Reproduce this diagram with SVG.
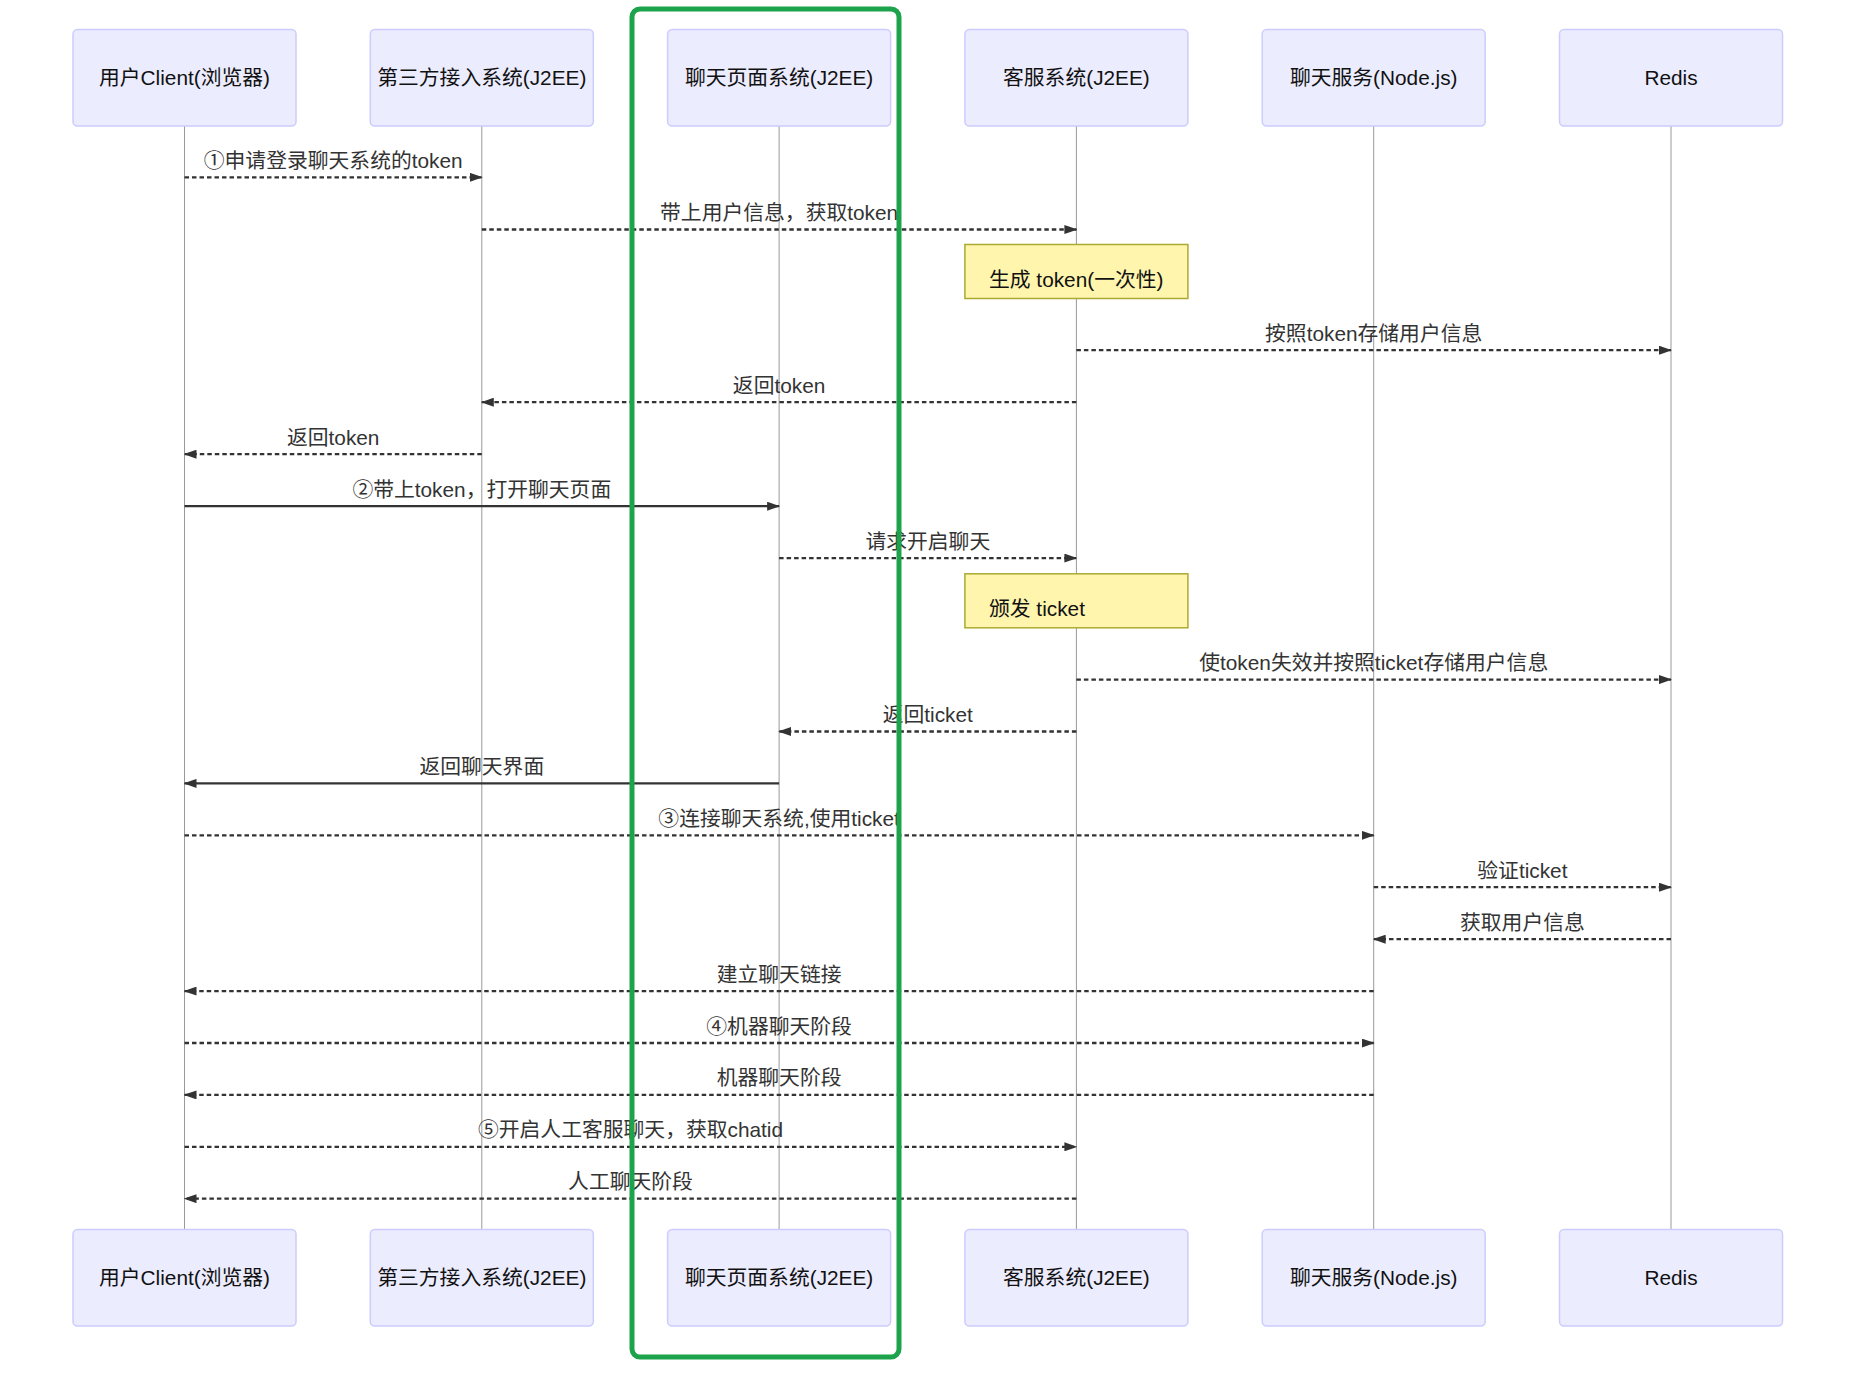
<svg xmlns="http://www.w3.org/2000/svg" width="1850" height="1376" viewBox="0 0 1850 1376">
<style>
text{font-family:"Liberation Sans","Noto Sans CJK SC",sans-serif;font-size:20.8px}
.actor rect{fill:#ECECFF;stroke:#CCCCFF;stroke-width:1.5}
.actor text{fill:#111;text-anchor:middle;dominant-baseline:central}
.life{stroke:#999;stroke-width:1}
.msg{stroke:#333;stroke-width:2.3;fill:none;marker-end:url(#ah)}
.dash{stroke-dasharray:4.5 3}
.lbl{fill:#333;text-anchor:middle}
.note rect{fill:#FFF5AD;stroke:#AAAA33;stroke-width:1.5}
.note text{fill:#111}
</style>
<defs>
<marker id="ah" viewBox="0 0 13 9" refX="12" refY="4.5" markerWidth="13" markerHeight="9" markerUnits="userSpaceOnUse" orient="auto">
<path d="M0,0 L13,4.5 L0,9 z" fill="#333"/>
</marker>
</defs>
<rect width="1850" height="1376" fill="#fff"/>
<g id="lifelines">
<line class="life" x1="184.5" y1="126" x2="184.5" y2="1229"/>
<line class="life" x1="481.8" y1="126" x2="481.8" y2="1229"/>
<line class="life" x1="779.1" y1="126" x2="779.1" y2="1229"/>
<line class="life" x1="1076.4" y1="126" x2="1076.4" y2="1229"/>
<line class="life" x1="1373.7" y1="126" x2="1373.7" y2="1229"/>
<line class="life" x1="1671" y1="126" x2="1671" y2="1229"/>
</g>
<g id="actor-client-top" class="actor"><rect x="73" y="29.4" width="223" height="96.6" rx="4.5"/><text x="184.5" y="77.7">用户Client(浏览器)</text></g>
<g id="actor-third-top" class="actor"><rect x="370.3" y="29.4" width="223" height="96.6" rx="4.5"/><text x="481.8" y="77.7">第三方接入系统(J2EE)</text></g>
<g id="actor-chatpage-top" class="actor"><rect x="667.6" y="29.4" width="223" height="96.6" rx="4.5"/><text x="779.1" y="77.7">聊天页面系统(J2EE)</text></g>
<g id="actor-cs-top" class="actor"><rect x="964.9" y="29.4" width="223" height="96.6" rx="4.5"/><text x="1076.4" y="77.7">客服系统(J2EE)</text></g>
<g id="actor-node-top" class="actor"><rect x="1262.2" y="29.4" width="223" height="96.6" rx="4.5"/><text x="1373.7" y="77.7">聊天服务(Node.js)</text></g>
<g id="actor-redis-top" class="actor"><rect x="1559.5" y="29.4" width="223" height="96.6" rx="4.5"/><text x="1671" y="77.7">Redis</text></g>
<g id="actor-client-bottom" class="actor"><rect x="73" y="1229.4" width="223" height="96.6" rx="4.5"/><text x="184.5" y="1277.7">用户Client(浏览器)</text></g>
<g id="actor-third-bottom" class="actor"><rect x="370.3" y="1229.4" width="223" height="96.6" rx="4.5"/><text x="481.8" y="1277.7">第三方接入系统(J2EE)</text></g>
<g id="actor-chatpage-bottom" class="actor"><rect x="667.6" y="1229.4" width="223" height="96.6" rx="4.5"/><text x="779.1" y="1277.7">聊天页面系统(J2EE)</text></g>
<g id="actor-cs-bottom" class="actor"><rect x="964.9" y="1229.4" width="223" height="96.6" rx="4.5"/><text x="1076.4" y="1277.7">客服系统(J2EE)</text></g>
<g id="actor-node-bottom" class="actor"><rect x="1262.2" y="1229.4" width="223" height="96.6" rx="4.5"/><text x="1373.7" y="1277.7">聊天服务(Node.js)</text></g>
<g id="actor-redis-bottom" class="actor"><rect x="1559.5" y="1229.4" width="223" height="96.6" rx="4.5"/><text x="1671" y="1277.7">Redis</text></g>
<g id="note-token" class="note"><rect x="964.9" y="244.5" width="223" height="54"/><text x="989" y="286.5">生成 token(一次性)</text></g>
<g id="note-ticket" class="note"><rect x="964.9" y="573.8" width="223" height="54"/><text x="989" y="615.5">颁发 ticket</text></g>
<g id="connectors">
<line class="msg dash" x1="184.5" y1="177.3" x2="481.8" y2="177.3"/>
<text class="lbl" x="333.2" y="167.8">①申请登录聊天系统的token</text>
<line class="msg dash" x1="481.8" y1="229.5" x2="1076.4" y2="229.5"/>
<text class="lbl" x="779.1" y="220">带上用户信息，获取token</text>
<line class="msg dash" x1="1076.4" y1="350.2" x2="1671" y2="350.2"/>
<text class="lbl" x="1373.7" y="340.7">按照token存储用户信息</text>
<line class="msg dash" x1="1076.4" y1="402.2" x2="481.8" y2="402.2"/>
<text class="lbl" x="779.1" y="392.7">返回token</text>
<line class="msg dash" x1="481.8" y1="454.2" x2="184.5" y2="454.2"/>
<text class="lbl" x="333.2" y="444.7">返回token</text>
<line class="msg" x1="184.5" y1="506.2" x2="779.1" y2="506.2"/>
<text class="lbl" x="481.8" y="496.7">②带上token，打开聊天页面</text>
<line class="msg dash" x1="779.1" y1="558.1" x2="1076.4" y2="558.1"/>
<text class="lbl" x="927.8" y="548.6">请求开启聊天</text>
<line class="msg dash" x1="1076.4" y1="679.6" x2="1671" y2="679.6"/>
<text class="lbl" x="1373.7" y="670.1">使token失效并按照ticket存储用户信息</text>
<line class="msg dash" x1="1076.4" y1="731.5" x2="779.1" y2="731.5"/>
<text class="lbl" x="927.8" y="722">返回ticket</text>
<line class="msg" x1="779.1" y1="783.4" x2="184.5" y2="783.4"/>
<text class="lbl" x="481.8" y="773.9">返回聊天界面</text>
<line class="msg dash" x1="184.5" y1="835.3" x2="1373.7" y2="835.3"/>
<text class="lbl" x="779.1" y="825.8">③连接聊天系统,使用ticket</text>
<line class="msg dash" x1="1373.7" y1="887.2" x2="1671" y2="887.2"/>
<text class="lbl" x="1522.4" y="877.7">验证ticket</text>
<line class="msg dash" x1="1671" y1="939.2" x2="1373.7" y2="939.2"/>
<text class="lbl" x="1522.4" y="929.7">获取用户信息</text>
<line class="msg dash" x1="1373.7" y1="991.1" x2="184.5" y2="991.1"/>
<text class="lbl" x="779.1" y="981.6">建立聊天链接</text>
<line class="msg dash" x1="184.5" y1="1043" x2="1373.7" y2="1043"/>
<text class="lbl" x="779.1" y="1033.5">④机器聊天阶段</text>
<line class="msg dash" x1="1373.7" y1="1094.9" x2="184.5" y2="1094.9"/>
<text class="lbl" x="779.1" y="1085.4">机器聊天阶段</text>
<line class="msg dash" x1="184.5" y1="1146.8" x2="1076.4" y2="1146.8"/>
<text class="lbl" x="630.5" y="1137.3">⑤开启人工客服聊天，获取chatid</text>
<line class="msg dash" x1="1076.4" y1="1198.7" x2="184.5" y2="1198.7"/>
<text class="lbl" x="630.5" y="1189.2">人工聊天阶段</text>
</g>
<g id="highlight">
<rect x="632" y="9" width="267" height="1348" rx="8" fill="none" stroke="#1CA34C" stroke-width="5"/>
</g>
</svg>
